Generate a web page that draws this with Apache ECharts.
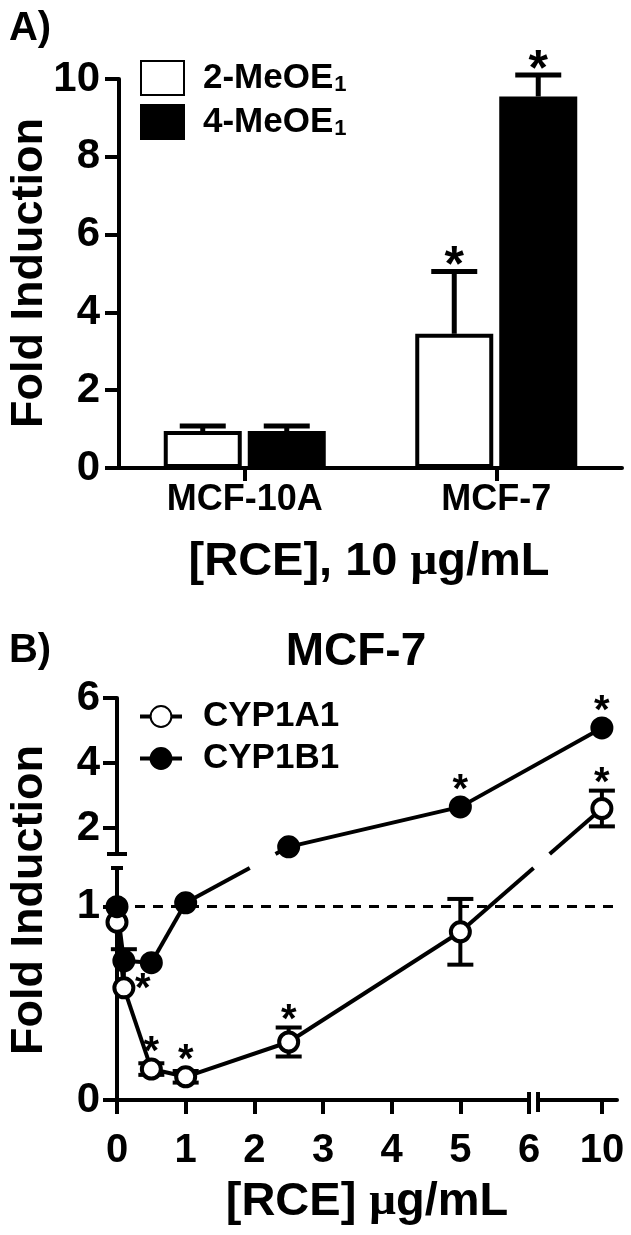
<!DOCTYPE html>
<html><head><meta charset="utf-8">
<script src="https://cdn.jsdelivr.net/npm/echarts@6/dist/echarts.min.js"></script>
<style>html,body{margin:0;padding:0;background:#fff}#c{width:631px;height:1235px}</style>
</head><body><div id="c"></div>
<script>
// ---------- Panel A data ----------
const cellLines = ['MCF-10A', 'MCF-7'];
const meo2Name = '2-MeOE1';
const meo4Name = '4-MeOE1';
const meo2Values = [0.95, 3.45];
const meo2Errors = [0.13, 1.6];
const meo2Sig = [0, 1];
const meo4Values = [0.95, 9.55];
const meo4Errors = [0.13, 0.55];
const meo4Sig = [0, 1];
const yTicksA = [0, 2, 4, 6, 8, 10];

// ---------- Panel B data ----------
const doses = [0, 0.1, 0.5, 1, 2.5, 5, 10];
const cyp1a1 = [0.92, 0.58, 0.16, 0.12, 0.30, 0.87, 2.6];
const cyp1a1ErrUp = [0, 0.2, 0.03, 0.03, 0.075, 0.17, 0.55];
const cyp1a1ErrDown = [0, 0, 0.03, 0.03, 0.075, 0.17, 0.55];
const cyp1a1Sig = [0, 1, 1, 1, 1, 0, 1];
const cyp1b1 = [1.0, 0.72, 0.71, 1.02, 1.42, 2.65, 5.08];
const cyp1b1ErrUp = [0, 0, 0, 0, 0, 0, 0];
const cyp1b1ErrDown = [0, 0, 0, 0, 0, 0, 0];
const cyp1b1Sig = [0, 0, 0, 0, 0, 1, 1];
const xTicksB = [0, 1, 2, 3, 4, 5, 6, 10];
const yTicksBLow = [0, 1];
const yTicksBHigh = [2, 4, 6];
const referenceLevel = 1;

// ---------- layout / style (not data) ----------
const FONT = '"Liberation Sans", Arial, Helvetica, sans-serif';
const BAR_W = 78, BAR_GAP_PX = 6;
const yBreakB = 1.2;           // boundary between lower and upper y segments
const xBreakB = { start: 6.0, end: 9.07, gap: '1.8%' };
const xMaxB = 10.22;
const starRightIdx = 1;        // CYP1A1 star placed to the right of this point

const chart = echarts.init(document.getElementById('c'), null, { renderer: 'canvas' });
const axisLineStyle = { color: '#000', width: 4 };

function errRenderA(params, api) {
  const cat = api.value(0), v = api.value(1), e = api.value(2), sig = api.value(3), s = api.value(4);
  const base = api.coord([cat, v]);
  const top = api.coord([cat, v + e]);
  const x = base[0] + (s === 0 ? -1 : 1) * (BAR_W + BAR_GAP_PX) / 2;
  const ch = [
    { type: 'line', shape: { x1: x, y1: base[1], x2: x, y2: top[1] }, style: { stroke: '#000', lineWidth: 5 } },
    { type: 'line', shape: { x1: x - 23, y1: top[1], x2: x + 23, y2: top[1] }, style: { stroke: '#000', lineWidth: 5 } }
  ];
  if (sig) ch.push({ type: 'text', x: x, y: top[1] - 4, style: { text: '*', fontSize: 50, fontWeight: 'bold', fontFamily: FONT, fill: '#000', align: 'center', verticalAlign: 'middle' } });
  return { type: 'group', children: ch };
}

function errRenderB(params, api) {
  const x = api.value(0), v = api.value(1), eu = api.value(2), ed = api.value(3), sig = api.value(4), right = api.value(5);
  const c = api.coord([x, v]);
  const ch = [];
  let topY = c[1] - 11;
  const st = { stroke: '#000', lineWidth: 4 };
  if (eu > 0) {
    const hi = api.coord([x, v + eu]);
    ch.push({ type: 'line', shape: { x1: c[0], y1: c[1], x2: c[0], y2: hi[1] }, style: st });
    ch.push({ type: 'line', shape: { x1: c[0] - 13, y1: hi[1], x2: c[0] + 13, y2: hi[1] }, style: st });
    topY = Math.min(topY, hi[1] - 2);
  }
  if (ed > 0) {
    const lo = api.coord([x, v - ed]);
    ch.push({ type: 'line', shape: { x1: c[0], y1: c[1], x2: c[0], y2: lo[1] }, style: st });
    ch.push({ type: 'line', shape: { x1: c[0] - 13, y1: lo[1], x2: c[0] + 13, y2: lo[1] }, style: st });
  }
  if (sig) {
    const sx = right ? c[0] + 19 : c[0];
    const sy = right ? c[1] + 2 : topY - 5;
    ch.push({ type: 'text', x: sx, y: sy, style: { text: '*', fontSize: 40, fontWeight: 'bold', fontFamily: FONT, fill: '#000', align: 'center', verticalAlign: 'middle' } });
  }
  return { type: 'group', children: ch };
}

function errDataA() {
  const d = [];
  cellLines.forEach((c, i) => {
    d.push([i, meo2Values[i], meo2Errors[i], meo2Sig[i], 0]);
    d.push([i, meo4Values[i], meo4Errors[i], meo4Sig[i], 1]);
  });
  return d;
}
function errDataB(vals, up, down, sigs, lowSeg, mark) {
  const d = [];
  doses.forEach((x, i) => {
    const inLow = vals[i] <= yBreakB;
    if (inLow !== lowSeg) return;
    if (!up[i] && !down[i] && !sigs[i]) return;
    d.push([x, vals[i], up[i], down[i], sigs[i], (mark && i === starRightIdx) ? 1 : 0]);
  });
  return d;
}

// symbols only (connecting lines are drawn across the axis break below)
function pointSeries(name, vals, fill, axisIdx, extra) {
  return Object.assign({
    type: 'line', name: name, xAxisIndex: axisIdx, yAxisIndex: axisIdx,
    data: doses.map((d, i) => [d, vals[i]]),
    symbol: 'circle', symbolSize: 19, showSymbol: true, clip: true,
    itemStyle: { color: fill, borderColor: '#000', borderWidth: 4 },
    lineStyle: { color: '#000', width: 4, opacity: 0 },
    emphasis: { disabled: true }, z: 4
  }, extra || {});
}

// broken-axis mapping through the two grids' own scales
function toPx(x, v) {
  return v <= yBreakB
    ? chart.convertToPixel({ xAxisIndex: 2, yAxisIndex: 2 }, [x, v])
    : chart.convertToPixel({ xAxisIndex: 1, yAxisIndex: 1 }, [x, v]);
}
function connectRender(vals) {
  return function (params, api) {
    const i = params.dataIndex;
    if (i >= doses.length - 1) return null;
    const p1 = toPx(doses[i], vals[i]), p2 = toPx(doses[i + 1], vals[i + 1]);
    const st = { stroke: '#000', lineWidth: 4 };
    const low1 = vals[i] <= yBreakB, low2 = vals[i + 1] <= yBreakB;
    if (low1 === low2) return { type: 'line', shape: { x1: p1[0], y1: p1[1], x2: p2[0], y2: p2[1] }, style: st };
    const lowTop = chart.convertToPixel({ yAxisIndex: 2 }, yBreakB);
    const upBot = chart.convertToPixel({ yAxisIndex: 1 }, yBreakB);
    const pl = low1 ? p1 : p2, pu = low1 ? p2 : p1;
    const at = y => pl[0] + (pu[0] - pl[0]) * (pl[1] - y) / (pl[1] - pu[1]);
    return {
      type: 'group', children: [
        { type: 'line', shape: { x1: pl[0], y1: pl[1], x2: at(lowTop), y2: lowTop }, style: st },
        { type: 'line', shape: { x1: at(upBot), y1: upBot, x2: pu[0], y2: pu[1] }, style: st }
      ]
    };
  };
}

const legendRich = {
  g: { width: 14 },
  a: { fontSize: 35, fontWeight: 'bold', fontFamily: FONT, color: '#000', lineHeight: 36 },
  s: { fontSize: 22, fontWeight: 'bold', fontFamily: FONT, color: '#000', lineHeight: 36, padding: [14, 0, 0, 1] }
};

const baseSeries = [
  {
    type: 'bar', name: meo2Name, xAxisIndex: 0, yAxisIndex: 0, data: meo2Values,
    barWidth: BAR_W, barGap: (BAR_GAP_PX / BAR_W * 100) + '%',
    itemStyle: { color: '#fff', borderColor: '#000', borderWidth: 4 }, emphasis: { disabled: true }
  },
  {
    type: 'bar', name: meo4Name, xAxisIndex: 0, yAxisIndex: 0, data: meo4Values,
    barWidth: BAR_W, barGap: (BAR_GAP_PX / BAR_W * 100) + '%',
    itemStyle: { color: '#000', borderColor: '#000', borderWidth: 4 }, emphasis: { disabled: true }
  },
  { type: 'custom', xAxisIndex: 0, yAxisIndex: 0, data: errDataA(), renderItem: errRenderA, z: 5, silent: true },
  pointSeries('CYP1A1', cyp1a1, '#fff', 2, {
    markLine: {
      silent: true, symbol: ['none', 'none'], label: { show: false },
      lineStyle: { type: [10, 8], width: 3, color: '#000', opacity: 1 },
      data: [{ yAxis: referenceLevel }]
    }
  }),
  pointSeries('CYP1B1', cyp1b1, '#000', 2),
  pointSeries('CYP1A1', cyp1a1, '#fff', 1),
  pointSeries('CYP1B1', cyp1b1, '#000', 1),
  { type: 'custom', xAxisIndex: 2, yAxisIndex: 2, data: errDataB(cyp1a1, cyp1a1ErrUp, cyp1a1ErrDown, cyp1a1Sig, true, true), renderItem: errRenderB, z: 3, silent: true },
  { type: 'custom', xAxisIndex: 2, yAxisIndex: 2, data: errDataB(cyp1b1, cyp1b1ErrUp, cyp1b1ErrDown, cyp1b1Sig, true, false), renderItem: errRenderB, z: 3, silent: true },
  { type: 'custom', xAxisIndex: 1, yAxisIndex: 1, data: errDataB(cyp1a1, cyp1a1ErrUp, cyp1a1ErrDown, cyp1a1Sig, false, true), renderItem: errRenderB, z: 3, silent: true },
  { type: 'custom', xAxisIndex: 1, yAxisIndex: 1, data: errDataB(cyp1b1, cyp1b1ErrUp, cyp1b1ErrDown, cyp1b1Sig, false, false), renderItem: errRenderB, z: 3, silent: true }
];

const option = {
  animation: false,
  backgroundColor: '#fff',
  textStyle: { fontFamily: FONT, color: '#000' },
  grid: [
    { left: 119, right: 9, top: 79, bottom: 767 },
    { left: 117, right: 14, top: 698, bottom: 381 },
    { left: 117, right: 14, top: 868, bottom: 135 }
  ],
  legend: [
    {
      data: [meo2Name, meo4Name], orient: 'vertical', left: 135, top: 55,
      itemWidth: 43, itemHeight: 34, itemGap: 8, icon: 'rect', selectedMode: false,
      formatter: n => '{g|}{a|' + n.slice(0, -1) + '}{s|' + n.slice(-1) + '}',
      textStyle: { rich: legendRich }
    },
    {
      data: ['CYP1A1', 'CYP1B1'], orient: 'vertical', left: 133, top: 694,
      itemWidth: 42, itemHeight: 26, itemGap: 7, selectedMode: false,
      lineStyle: { color: '#000', width: 4, opacity: 1 },
      textStyle: { fontSize: 35, fontWeight: 'bold', fontFamily: FONT, color: '#000', lineHeight: 26, padding: [0, 0, 0, 16] }
    }
  ],
  xAxis: [
    {
      type: 'category', gridIndex: 0, data: cellLines,
      axisLine: { show: true, lineStyle: axisLineStyle },
      axisTick: { show: true, alignWithLabel: true, length: 13, lineStyle: axisLineStyle },
      axisLabel: { fontSize: 36, fontWeight: 'bold', color: '#000', margin: 14, fontFamily: FONT },
      splitLine: { show: false }
    },
    {
      type: 'value', gridIndex: 1, min: 0, max: xMaxB, show: false,
      breaks: [xBreakB], breakArea: { show: false }, splitLine: { show: false }
    },
    {
      type: 'value', gridIndex: 2, min: 0, max: xMaxB,
      breaks: [xBreakB], breakArea: { show: false },
      axisLine: { show: true, onZero: false, lineStyle: axisLineStyle },
      axisTick: { show: true, length: 14, lineStyle: axisLineStyle, customValues: xTicksB },
      axisLabel: { customValues: xTicksB, fontSize: 40, fontWeight: 'bold', color: '#000', margin: 31, fontFamily: FONT },
      splitLine: { show: false }
    }
  ],
  yAxis: [
    {
      type: 'value', gridIndex: 0, min: yTicksA[0], max: yTicksA[yTicksA.length - 1], interval: 2,
      axisLine: { show: true, lineStyle: axisLineStyle },
      axisTick: { show: true, length: 14, lineStyle: axisLineStyle },
      axisLabel: { fontSize: 42, fontWeight: 'bold', color: '#000', margin: 19, fontFamily: FONT },
      splitLine: { show: false }
    },
    {
      type: 'value', gridIndex: 1, min: yBreakB, max: yTicksBHigh[yTicksBHigh.length - 1],
      axisLine: { show: true, lineStyle: axisLineStyle },
      axisTick: { show: true, length: 14, lineStyle: axisLineStyle, customValues: yTicksBHigh },
      axisLabel: { customValues: yTicksBHigh, fontSize: 42, fontWeight: 'bold', color: '#000', margin: 17, fontFamily: FONT },
      splitLine: { show: false }
    },
    {
      type: 'value', gridIndex: 2, min: 0, max: yBreakB,
      axisLine: { show: true, lineStyle: axisLineStyle },
      axisTick: { show: true, length: 14, lineStyle: axisLineStyle, customValues: yTicksBLow },
      axisLabel: { customValues: yTicksBLow, fontSize: 42, fontWeight: 'bold', color: '#000', margin: 17, fontFamily: FONT },
      splitLine: { show: false }
    }
  ],
  series: baseSeries
};
chart.setOption(option);

// connecting lines (drawn once the coordinate systems exist)
chart.setOption({
  series: baseSeries.concat([
    { type: 'custom', coordinateSystem: 'none', data: doses.map((d, i) => [d, cyp1a1[i]]), renderItem: connectRender(cyp1a1), z: 2, silent: true },
    { type: 'custom', coordinateSystem: 'none', data: doses.map((d, i) => [d, cyp1b1[i]]), renderItem: connectRender(cyp1b1), z: 2, silent: true }
  ])
});

// ---------- texts and axis-break decorations ----------
function txt(text, x, y, size, rotation) {
  const g = {
    type: 'text', x: x, y: y, silent: true, z: 50,
    style: { text: text, fontSize: size, fontWeight: 'bold', fontFamily: FONT, fill: '#000', align: 'center', verticalAlign: 'middle' }
  };
  if (rotation) g.rotation = rotation;
  return g;
}
const muRich = {
  r: { fontSize: 47, fontWeight: 'bold', fontFamily: FONT, fill: '#000' },
  m: { fontSize: 47, fontWeight: 'bold', fontFamily: '"Liberation Serif", "DejaVu Serif", serif', fill: '#000' }
};
const axX = chart.convertToPixel({ xAxisIndex: 2 }, 0);
const bx1 = chart.convertToPixel({ xAxisIndex: 2 }, xBreakB.start);
const bx2 = chart.convertToPixel({ xAxisIndex: 2 }, xBreakB.end);
const axY = chart.convertToPixel({ yAxisIndex: 2 }, 0);
const lowTop = chart.convertToPixel({ yAxisIndex: 2 }, yBreakB);
const upBot = chart.convertToPixel({ yAxisIndex: 1 }, yBreakB);
const ls = { stroke: '#000', lineWidth: 4 };
const graphics = [
  txt('A)', 30, 29, 40),
  txt('B)', 30, 651, 40),
  txt('MCF-7', 356, 652, 46),
  txt('Fold Induction', 30, 273, 45, Math.PI / 2),
  txt('Fold Induction', 30, 900, 45, Math.PI / 2),
  { type: 'text', x: 369, y: 562, silent: true, z: 50, style: { text: '{r|[RCE], 10 }{m|μ}{r|g/mL}', rich: muRich, align: 'center', verticalAlign: 'middle' } },
  { type: 'text', x: 367, y: 1202, silent: true, z: 50, style: { text: '{r|[RCE] }{m|μ}{r|g/mL}', rich: muRich, align: 'center', verticalAlign: 'middle' } },
  // y break caps (panel B)
  { type: 'line', z: 60, shape: { x1: axX - 10, y1: upBot, x2: axX + 10, y2: upBot }, style: ls },
  { type: 'line', z: 60, shape: { x1: axX - 6, y1: lowTop, x2: axX + 6, y2: lowTop }, style: ls },
  // x break (panel B)
  { type: 'rect', z: 60, shape: { x: bx1 + 2, y: axY - 4, width: Math.max(bx2 - bx1 - 4, 2), height: 8 }, style: { fill: '#fff' } },
  { type: 'line', z: 61, shape: { x1: bx1, y1: axY - 8, x2: bx1, y2: axY + 14 }, style: ls },
  { type: 'line', z: 61, shape: { x1: bx2, y1: axY - 8, x2: bx2, y2: axY + 12 }, style: ls }
];
chart.setOption({ graphic: graphics });
</script>
</body></html>
